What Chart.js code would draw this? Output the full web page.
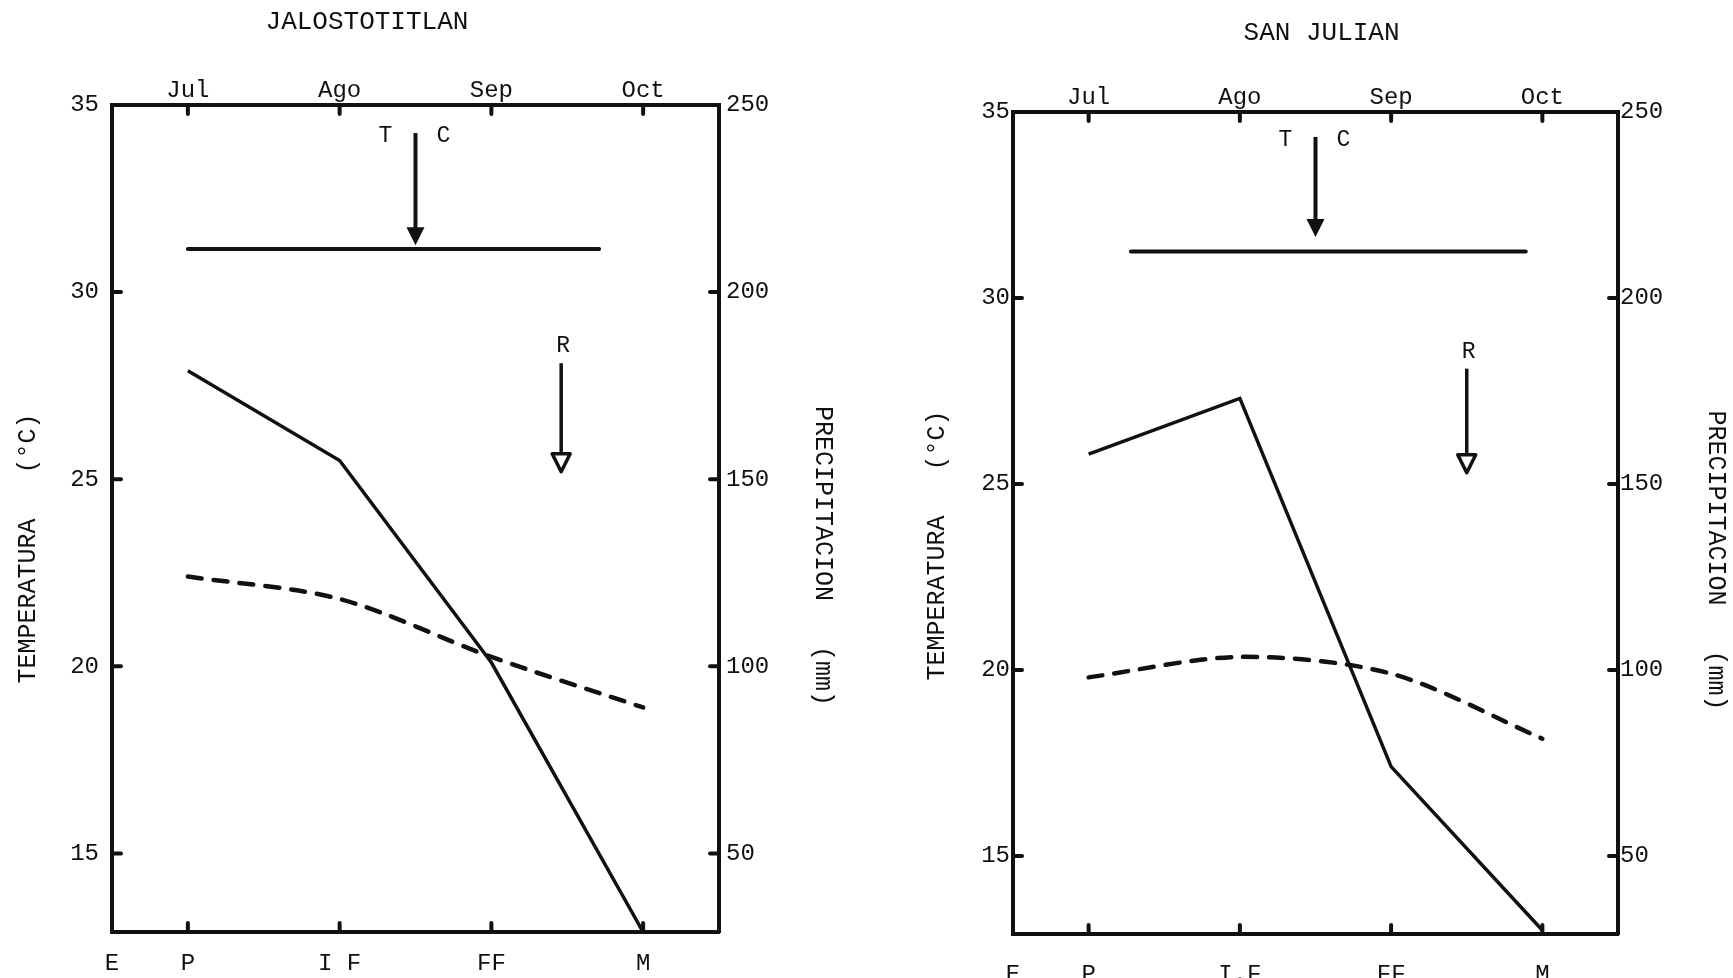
<!DOCTYPE html>
<html lang="es">
<head>
<meta charset="utf-8">
<title>Temperatura y precipitación</title>
<script src="https://cdn.jsdelivr.net/npm/chart.js@4.4.1/dist/chart.umd.min.js"></script>
<style>
  html, body { margin: 0; padding: 0; background: #fff; }
  body { width: 1733px; height: 978px; position: relative; overflow: hidden; }
  canvas { position: absolute; top: 0; }
  #graficaJalos { left: 0; }
  #graficaSanJulian { left: 866px; }
</style>
</head>
<body>
<canvas id="graficaJalos" width="866" height="978"></canvas>
<canvas id="graficaSanJulian" width="867" height="978"></canvas>
<script>
// --- DATOS ---
// etapas del cultivo (eje inferior) y meses (eje superior)
const etapasJal = ['E', 'P', 'I F', 'FF', 'M'];
const etapasSJ = ['E', 'P', 'I.F', 'FF', 'M'];
const posEtapas = [0, 0.5, 1.5, 2.5, 3.5];
const meses = ['Jul', 'Ago', 'Sep', 'Oct'];
const posMeses = [0.5, 1.5, 2.5, 3.5];
const ticksTemp = [15, 20, 25, 30, 35];
const ticksPrec = [50, 100, 150, 200, 250];
const posSerie = [0.5, 1.5, 2.5, 3.5];

// Jalostotitlan
const jalPrec = [179, 155, 101, 29];
const jalTemp = [22.4, 21.8, 20.25, 18.9];
const jalLineaTC = [0.5, 3.21, 31.15];   // x inicio, x fin, temperatura
const jalFlechaTC = [2.0, 34.25, 31.25]; // x, desde, hasta
const jalFlechaR = [2.96, 28.1, 25.2];

// San Julian
const sjPrec = [158, 173, 74, 30];
const sjTemp = [19.8, 20.35, 19.9, 18.15];
const sjLineaTC = [0.78, 3.39, 31.25];
const sjFlechaTC = [2.0, 34.33, 31.64];
const sjFlechaR = [3.0, 28.1, 25.3];

// --- ESTILO ---
const TINTA = '#111';
const FUENTE = "'Liberation Mono', 'Courier New', monospace";
Chart.defaults.font.family = FUENTE;
Chart.defaults.color = TINTA;

const aPuntos = (arr) => arr.map((v, i) => ({ x: posSerie[i], y: v }));

// marcas cortas hacia dentro del área, en cada tick (menos en las esquinas)
const marcasInternas = {
    id: 'marcasInternas',
    afterDraw(chart) {
        const { ctx, chartArea: a, scales } = chart;
        const len = 9;
        ctx.save();
        ctx.strokeStyle = TINTA;
        ctx.lineWidth = 4;
        ctx.lineCap = 'round';
        ctx.beginPath();
        scales.x.ticks.forEach(t => {
            if (t.value <= scales.x.min) return;
            const px = scales.x.getPixelForValue(t.value);
            ctx.moveTo(px, a.bottom); ctx.lineTo(px, a.bottom - len);
        });
        scales.x2.ticks.forEach(t => {
            const px = scales.x2.getPixelForValue(t.value);
            ctx.moveTo(px, a.top); ctx.lineTo(px, a.top + len);
        });
        scales.y.ticks.forEach(t => {
            if (t.value >= scales.y.max) return;
            const py = scales.y.getPixelForValue(t.value);
            ctx.moveTo(a.left, py); ctx.lineTo(a.left + len, py);
        });
        scales.y2.ticks.forEach(t => {
            if (t.value >= scales.y2.max) return;
            const py = scales.y2.getPixelForValue(t.value);
            ctx.moveTo(a.right, py); ctx.lineTo(a.right - len, py);
        });
        ctx.stroke();
        ctx.restore();
    }
};

// titulo de la localidad y flechas T-C y R
const anotaciones = {
    id: 'anotaciones',
    afterDatasetsDraw(chart, args, opts) {
        const { ctx, chartArea: a, scales: { x, y } } = chart;
        ctx.save();
        ctx.fillStyle = TINTA;
        ctx.strokeStyle = TINTA;
        ctx.textAlign = 'center';
        ctx.textBaseline = 'middle';
        ctx.font = `26px ${FUENTE}`;
        ctx.fillText(opts.titulo, a.left + a.width * opts.tituloPos, a.top - opts.tituloAlto);

        ctx.font = `23px ${FUENTE}`;
        opts.flechas.forEach(f => {
            const [vx, desde, hasta] = f.datos;
            const px = x.getPixelForValue(vx);
            const y0 = y.getPixelForValue(desde);
            const y1 = y.getPixelForValue(hasta);
            const alto = 18, ancho = 9;
            ctx.lineWidth = f.relleno ? 4 : 3.5;
            ctx.beginPath();
            ctx.moveTo(px, y0);
            ctx.lineTo(px, y1 - alto + 2);
            ctx.stroke();
            ctx.beginPath();
            ctx.moveTo(px, y1);
            ctx.lineTo(px - ancho, y1 - alto);
            ctx.lineTo(px + ancho, y1 - alto);
            ctx.closePath();
            if (f.relleno) {
                ctx.fill();
            } else {
                ctx.fillStyle = '#fff';
                ctx.fill();
                ctx.lineWidth = 3.5;
                ctx.lineJoin = 'round';
                ctx.stroke();
                ctx.fillStyle = TINTA;
            }
            if (f.izq) ctx.fillText(f.izq, px - 30, y0 + 3);
            if (f.der) ctx.fillText(f.der, px + 28, y0 + 3);
            if (f.arriba) ctx.fillText(f.arriba, px + 2, y0 - 17);
        });
        ctx.restore();
    }
};

const crearGrafica = (canvasId, cfg) => {
    const ejeY = (pos, ticks, min, max, ancho, pad, titulo, tpad) => ({
        type: 'linear', position: pos, min, max,
        afterBuildTicks: s => { s.ticks = ticks.map(v => ({ value: v })); },
        afterFit: s => { s.width = ancho; },
        grid: { display: false, drawTicks: false },
        border: { display: true, width: 4, color: TINTA },
        ticks: { padding: pad, color: TINTA, font: { size: 24 } },
        title: { display: true, text: titulo, color: TINTA, font: { size: 25 }, padding: { top: tpad, bottom: 0 } }
    });
    const ejeX = (pos, valores, etiquetas, alto, pad) => ({
        type: 'linear', position: pos, min: 0, max: 4,
        afterBuildTicks: s => { s.ticks = valores.map(v => ({ value: v })); },
        afterFit: s => { s.height = alto; },
        grid: { display: false, drawTicks: false },
        border: { display: true, width: 4, color: TINTA },
        ticks: { autoSkip: false, maxRotation: 0, padding: pad, color: TINTA, font: { size: 24 },
                 callback: (v, i) => etiquetas[i] }
    });

    return new Chart(document.getElementById(canvasId), {
        type: 'line',
        data: {
            datasets: [
                {   // precipitacion
                    data: aPuntos(cfg.prec), yAxisID: 'y2', xAxisID: 'x',
                    borderColor: TINTA, borderWidth: 3.5, tension: 0, pointRadius: 0
                },
                {   // temperatura
                    data: aPuntos(cfg.temp), yAxisID: 'y', xAxisID: 'x',
                    borderColor: TINTA, borderWidth: 4.5, borderDash: [14, 12], borderCapStyle: 'round',
                    tension: 0.3, pointRadius: 0
                },
                {   // nivel T-C
                    data: [{ x: cfg.lineaTC[0], y: cfg.lineaTC[2] }, { x: cfg.lineaTC[1], y: cfg.lineaTC[2] }],
                    yAxisID: 'y', xAxisID: 'x',
                    borderColor: TINTA, borderWidth: 4, pointRadius: 0, borderCapStyle: 'round'
                }
            ]
        },
        options: {
            responsive: false,
            animation: false,
            devicePixelRatio: 1,
            layout: { padding: 0 },
            plugins: {
                legend: { display: false },
                tooltip: { enabled: false },
                anotaciones: {
                    titulo: cfg.titulo, tituloPos: cfg.tituloPos, tituloAlto: cfg.tituloAlto,
                    flechas: [
                        { datos: cfg.flechaTC, relleno: true, izq: 'T', der: 'C' },
                        { datos: cfg.flechaR, relleno: false, arriba: 'R' }
                    ]
                }
            },
            scales: {
                x: ejeX('bottom', posEtapas, cfg.etapas, cfg.abajo, cfg.padAbajo),
                x2: ejeX('top', posMeses, meses, cfg.arriba, cfg.padArriba),
                y: ejeY('left', ticksTemp, 12.9, 35, cfg.izq, cfg.padIzq, cfg.tituloTemp, cfg.tpadIzq),
                y2: ejeY('right', ticksPrec, 29, 250, cfg.der, cfg.padDer, cfg.tituloPrec, cfg.tpadDer)
            }
        },
        plugins: [marcasInternas, anotaciones]
    });
};

crearGrafica('graficaJalos', {
    titulo: 'JALOSTOTITLAN', tituloPos: 0.42, tituloAlto: 83,
    etapas: etapasJal, prec: jalPrec, temp: jalTemp,
    lineaTC: jalLineaTC, flechaTC: jalFlechaTC, flechaR: jalFlechaR,
    izq: 112, der: 147, arriba: 105, abajo: 46,
    padIzq: 13, padDer: 7, padArriba: 0, padAbajo: 17,
    tituloTemp: 'TEMPERATURA   (°C)    ', tpadIzq: 13,
    tituloPrec: '     PRECIPITACION   (mm)', tpadDer: 28
});

crearGrafica('graficaSanJulian', {
    titulo: 'SAN JULIAN', tituloPos: 0.51, tituloAlto: 79,
    etapas: etapasSJ, prec: sjPrec, temp: sjTemp,
    lineaTC: sjLineaTC, flechaTC: sjFlechaTC, flechaR: sjFlechaR,
    izq: 147, der: 115, arriba: 112, abajo: 44,
    padIzq: 3, padDer: 2, padArriba: 0, padAbajo: 26,
    tituloTemp: 'TEMPERATURA   (°C)   ', tpadIzq: 56,
    tituloPrec: '     PRECIPITACION   (mm)', tpadDer: 2
});
</script>
</body>
</html>
